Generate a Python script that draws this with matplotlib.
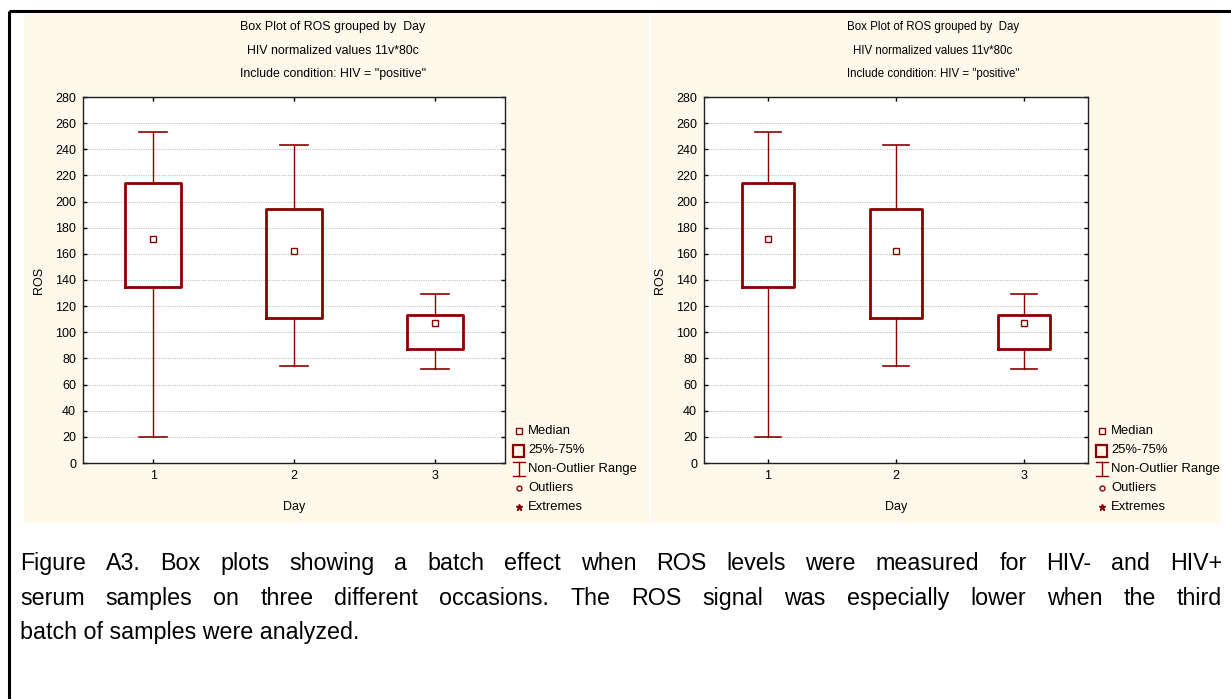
import matplotlib
matplotlib.use("Agg")
import matplotlib.pyplot as plt
from matplotlib.patches import Rectangle

# ---------------- data ----------------
days = [1, 2, 3]
whisker_low = [20, 74, 72]
q1 = [135, 111, 87]
median = [171, 162, 107]
q3 = [214, 194, 113]
whisker_high = [253, 243, 129]

title_lines = ['Box Plot of ROS grouped by  Day',
               'HIV normalized values 11v*80c',
               'Include condition: HIV = "positive"']
legend_labels = ['Median', '25%-75%', 'Non-Outlier Range', 'Outliers', 'Extremes']
caption_lines = [
    "Figure A3. Box plots showing a batch effect when ROS levels were measured for HIV- and HIV+",
    "serum samples on three different occasions. The ROS signal was especially lower when the third",
    "batch of samples were analyzed.",
]

# ---------------- style ----------------
FONT = ['Liberation Sans', 'DejaVu Sans']
RED = '#8b0000'
CREAM = '#fff9ec'

W, H = 1231, 699
fig = plt.figure(figsize=(W / 100, H / 100), dpi=100)
renderer = fig.canvas.get_renderer()


def fit_size(s, target_px, family=FONT):
    t = fig.text(0, 0, s, fontsize=10, family=family)
    w = t.get_window_extent(renderer).width
    t.remove()
    return 10 * target_px / w


FS_TITLE_L = fit_size(title_lines[0], 185)
FS_TITLE_R = fit_size(title_lines[0], 172)
FS_TICK = 9
FS_LEG = fit_size('Non-Outlier Range', 109)
FS_CAP = fit_size(caption_lines[2], 340)

# background axes in pixel coordinates
bg = fig.add_axes([0, 0, 1, 1])
bg.set_xlim(0, W)
bg.set_ylim(H, 0)
bg.axis('off')
bg.add_patch(Rectangle((24, 14), 625, 509, facecolor=CREAM, edgecolor='none'))
bg.add_patch(Rectangle((651, 14), 570, 509, facecolor=CREAM, edgecolor='none'))
bg.plot([9, W + 5], [11, 11], color='black', lw=2.2, solid_capstyle='butt')
bg.plot([9, 9], [11, H + 5], color='black', lw=2.2, solid_capstyle='butt')


def px_axes(x0, x1, y0, y1):
    return fig.add_axes([x0 / W, 1 - y1 / H, (x1 - x0) / W, (y1 - y0) / H])


def draw_panel(ax, title_cx, title_fs, legend_x):
    stats = [dict(whislo=lo, q1=a, med=m, q3=b, whishi=hi, fliers=[], label=str(d))
             for d, lo, a, m, b, hi in zip(days, whisker_low, q1, median, q3, whisker_high)]
    ax.bxp(stats, positions=days, widths=0.4, capwidths=0.2, showfliers=False,
           boxprops=dict(color=RED, linewidth=2.0),
           whiskerprops=dict(color=RED, linewidth=1.0),
           capprops=dict(color=RED, linewidth=1.2),
           medianprops=dict(linewidth=0))
    ax.plot(days, median, linestyle='none', marker='s', markersize=4.5,
            markerfacecolor='white', markeredgecolor=RED, markeredgewidth=1.0, zorder=5)
    ax.set_xlim(0.5, 3.5)
    ax.set_ylim(0, 280)
    ax.set_yticks(range(0, 281, 20))
    ax.set_xticks(days)
    ax.set_xticklabels([str(d) for d in days])
    ax.yaxis.grid(True, linestyle=(0, (1, 1)), color='#c4c4c4', linewidth=0.8)
    ax.set_axisbelow(True)
    ax.tick_params(direction='in', top=True, right=True, length=3, width=1,
                   labelsize=FS_TICK, pad=5)
    for lab in ax.get_xticklabels() + ax.get_yticklabels():
        lab.set_family(FONT)
    for s in ax.spines.values():
        s.set_linewidth(1.0)
        s.set_color('#202020')
    ax.set_xlabel('Day', family=FONT, fontsize=FS_TICK, labelpad=14)
    ax.set_ylabel('ROS', family=FONT, fontsize=FS_TICK, labelpad=7)
    for t, y in zip(title_lines, [27, 51, 74]):
        bg.text(title_cx, y, t, ha='center', va='center', family=FONT, fontsize=title_fs)
    # legend
    lx = legend_x
    ys = [431, 450, 469, 488, 507]
    bg.plot([lx], [ys[0]], marker='s', markersize=4.5, markerfacecolor='white',
            markeredgecolor=RED, markeredgewidth=1.0)
    bg.add_patch(Rectangle((lx - 6, 445), 11, 12, facecolor='none', edgecolor=RED, linewidth=1.6))
    bg.plot([lx, lx], [462, 476], color=RED, lw=1.0)
    bg.plot([lx - 6, lx + 6], [462, 462], color=RED, lw=1.0)
    bg.plot([lx - 6, lx + 6], [476, 476], color=RED, lw=1.0)
    bg.plot([lx], [ys[3]], marker='o', markersize=3.5, markerfacecolor='white',
            markeredgecolor=RED, markeredgewidth=1.0)
    bg.plot([lx], [ys[4]], marker='*', markersize=5, color=RED)
    for lab, y in zip(legend_labels, ys):
        bg.text(lx + 9, y, lab, ha='left', va='center', family=FONT, fontsize=FS_LEG)


ax1 = px_axes(83, 505, 97, 463)
ax2 = px_axes(704, 1088, 97, 463)
draw_panel(ax1, 333, FS_TITLE_L, 519)
draw_panel(ax2, 933, FS_TITLE_R, 1102)

# ---------------- caption (justified, common baseline) ----------------
cap_left, cap_right = 20, 1222
for i, (line, y) in enumerate(zip(caption_lines, [570, 605, 639])):
    words = line.split(' ')
    if i < len(caption_lines) - 1:
        texts = [bg.text(0, y, w, ha='left', va='baseline', family=FONT, fontsize=FS_CAP) for w in words]
        widths = [t.get_window_extent(renderer).width for t in texts]
        gap = (cap_right - cap_left - sum(widths)) / (len(words) - 1)
        x = cap_left
        for t, w in zip(texts, widths):
            t.set_x(x)
            x += w + gap
    else:
        bg.text(cap_left, y, line, ha='left', va='baseline', family=FONT, fontsize=FS_CAP)

fig.savefig('out.png', dpi=100)
